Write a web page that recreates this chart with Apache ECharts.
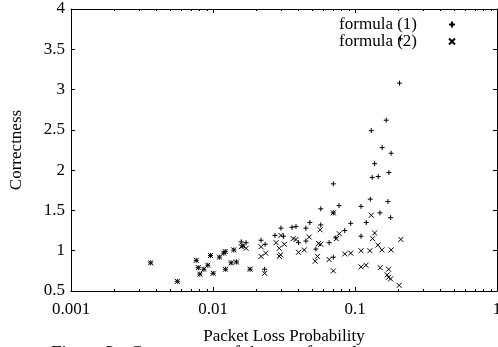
<!DOCTYPE html>
<html>
<head>
<meta charset="utf-8">
<script src="https://cdn.jsdelivr.net/npm/echarts@6/dist/echarts.min.js"></script>
<style>
  html, body { margin: 0; padding: 0; background: #fff; }
  #chart { width: 498px; height: 347px; }
</style>
</head>
<body>
<div id="chart"></div>
<script>
// axis ticks
let xTicks = [0.001, 0.01, 0.1, 1];
let xTickLabels = ['0.001', '0.01', '0.1', '1'];
let yTicks = [0.5, 1, 1.5, 2, 2.5, 3, 3.5, 4];

// formula (1) points [loss probability, correctness]
let formula1 = [
  [0.00364, 0.85], [0.00561, 0.62], [0.00762, 0.88], [0.00787, 0.79], [0.00808, 0.71],
  [0.00862, 0.77], [0.00919, 0.82], [0.0096, 0.94], [0.01003, 0.72], [0.0111, 0.92],
  [0.0119, 0.97], [0.01218, 0.99], [0.01224, 0.77], [0.01342, 0.85], [0.0140, 1.01],
  [0.01462, 0.86], [0.0158, 1.11], [0.0171, 1.10], [0.0162, 1.06], [0.01824, 0.77],
  [0.0218, 1.13], [0.0233, 1.08], [0.0231, 0.77], [0.0301, 1.28], [0.0273, 1.19],
  [0.0314, 1.18], [0.0360, 1.29], [0.0384, 1.30], [0.0400, 1.10], [0.0451, 1.28],
  [0.0481, 1.35], [0.0451, 1.12], [0.0574, 1.52], [0.0574, 1.32], [0.0530, 1.02],
  [0.0772, 1.56], [0.0657, 1.10], [0.0847, 1.25], [0.0933, 1.34], [0.0704, 0.92],
  [0.0704, 1.47], [0.0704, 1.83], [0.0732, 1.16], [0.1375, 2.08], [0.1322, 1.91],
  [0.1457, 1.92], [0.1733, 1.97], [0.1102, 1.55], [0.1281, 1.64], [0.1705, 1.61],
  [0.1498, 1.47], [0.1781, 1.41], [0.1200, 1.35], [0.1102, 1.18], [0.2059, 3.08],
  [0.1658, 2.62], [0.1302, 2.49], [0.1554, 2.28], [0.1797, 2.21], [0.209, 3.63]
];

// formula (2) points
let formula2 = [
  [0.00364, 0.85], [0.00561, 0.62], [0.00762, 0.88], [0.00787, 0.79], [0.00808, 0.71],
  [0.00862, 0.77], [0.00919, 0.82], [0.0096, 0.94], [0.01003, 0.72], [0.0111, 0.92],
  [0.0119, 0.97], [0.01218, 0.99], [0.01224, 0.77], [0.01342, 0.85], [0.0140, 1.01],
  [0.01462, 0.86], [0.0158, 1.05], [0.0171, 1.03], [0.0162, 1.06], [0.01824, 0.77],
  [0.0218, 1.05], [0.0235, 0.97], [0.0218, 0.93], [0.0231, 0.72], [0.0301, 1.19],
  [0.0278, 1.10], [0.0318, 1.08], [0.0293, 1.03], [0.0299, 0.95], [0.0293, 0.93],
  [0.0367, 1.15], [0.0384, 1.14], [0.0400, 0.98], [0.0439, 1.01], [0.0476, 1.17],
  [0.0568, 1.26], [0.0553, 1.09], [0.0574, 1.08], [0.0544, 0.93], [0.0524, 0.87],
  [0.0704, 1.47], [0.0739, 1.15], [0.0776, 1.21], [0.0657, 0.89], [0.0704, 0.75],
  [0.0847, 0.96], [0.0933, 0.97], [0.1302, 1.44], [0.1375, 1.22], [0.1331, 1.15],
  [0.2103, 1.14], [0.1450, 1.07], [0.1547, 1.01], [0.1797, 1.01], [0.1102, 1.00],
  [0.1274, 1.00], [0.1102, 0.80], [0.1195, 0.82], [0.1505, 0.79], [0.1724, 0.77],
  [0.1685, 0.70], [0.1722, 0.67], [0.1781, 0.65], [0.2046, 0.57]
];

let seriesNames = ['formula (1)', 'formula (2)'];
let plusPath = 'path://M5,0L5,10M0,5L10,5';
let crossPath = 'path://M0,0L10,10M10,0L0,10';
let font = 'Liberation Serif';

let chart = echarts.init(document.getElementById('chart'));

let baseX = {
  type: 'log',
  logBase: 10,
  min: xTicks[0],
  max: xTicks[xTicks.length - 1],
  axisLine: {show: true, lineStyle: {color: '#000', width: 1}},
  axisTick: {show: true, inside: true, length: 4, lineStyle: {color: '#000'}},
  splitLine: {show: false}
};
let baseY = {
  type: 'value',
  min: yTicks[0],
  max: yTicks[yTicks.length - 1],
  interval: 0.5,
  axisLine: {show: true, onZero: false, lineStyle: {color: '#000', width: 1}},
  axisTick: {show: true, inside: true, length: 4, lineStyle: {color: '#000'}},
  splitLine: {show: false}
};

let option = {
  animation: false,
  textStyle: {fontFamily: font},
  grid: {left: 71, right: 1, top: 9, bottom: 56, outerBoundsMode: 'none', containLabel: false},
  legend: {
    orient: 'vertical',
    align: 'right',
    right: 37,
    top: 11,
    itemGap: 0,
    itemWidth: 6,
    itemHeight: 6,
    data: seriesNames,
    textStyle: {fontFamily: font, fontSize: 17, lineHeight: 17, color: '#000', padding: [0, 27, 0, 0]}
  },
  xAxis: [
    Object.assign({}, baseX, {
      position: 'bottom',
      name: 'Packet Loss Probability',
      nameLocation: 'middle',
      nameGap: 37,
      nameTextStyle: {fontFamily: font, fontSize: 17, color: '#000'},
      axisLabel: {
        fontFamily: font, fontSize: 17, color: '#000', margin: 10,
        hideOverlap: false,
        formatter: function(v){
          let i = xTicks.findIndex(t => Math.abs(Math.log10(t) - Math.log10(v)) < 1e-6);
          return i >= 0 ? xTickLabels[i] : '';
        }
      }
    }),
    Object.assign({}, baseX, {position: 'top', axisLabel: {show: false}})
  ],
  yAxis: [
    Object.assign({}, baseY, {
      position: 'left',
      name: 'Correctness',
      nameLocation: 'middle',
      nameGap: 46,
      nameTextStyle: {fontFamily: font, fontSize: 17, color: '#000'},
      axisLabel: {fontFamily: font, fontSize: 17, color: '#000', margin: 6}
    }),
    Object.assign({}, baseY, {position: 'right', axisLabel: {show: false}})
  ],
  series: [
    {
      name: seriesNames[0],
      type: 'scatter',
      data: formula1,
      symbol: plusPath,
      symbolSize: 5,
      itemStyle: {color: '#000', borderColor: '#000', borderWidth: 1, opacity: 1}
    },
    {
      name: seriesNames[1],
      type: 'scatter',
      data: formula2,
      symbol: crossPath,
      symbolSize: 5,
      itemStyle: {color: '#000', borderColor: '#000', borderWidth: 1, opacity: 1}
    }
  ]
};
chart.setOption(option);

// minor log ticks (2..9 in each decade), bottom and top, plus caption
let yBottom = chart.convertToPixel({yAxisIndex: 0}, yTicks[0]);
let yTop = chart.convertToPixel({yAxisIndex: 0}, yTicks[yTicks.length - 1]);
let graphics = [];
for (let d = 0; d < xTicks.length - 1; d++) {
  for (let k = 2; k <= 9; k++) {
    let px = Math.round(chart.convertToPixel({xAxisIndex: 0}, xTicks[d] * k)) + 0.5;
    graphics.push({type: 'line', shape: {x1: px, y1: yBottom, x2: px, y2: yBottom - 2}, style: {stroke: '#000', lineWidth: 1}, silent: true});
    graphics.push({type: 'line', shape: {x1: px, y1: yTop, x2: px, y2: yTop + 2}, style: {stroke: '#000', lineWidth: 1}, silent: true});
  }
}
graphics.push({
  type: 'text', left: 51, top: 345, silent: true,
  style: {text: 'Figure 3:  Correctness of the two formulas', fontFamily: font, fontSize: 19, fill: '#000'}
});
chart.setOption({graphic: graphics});
</script>
</body>
</html>
